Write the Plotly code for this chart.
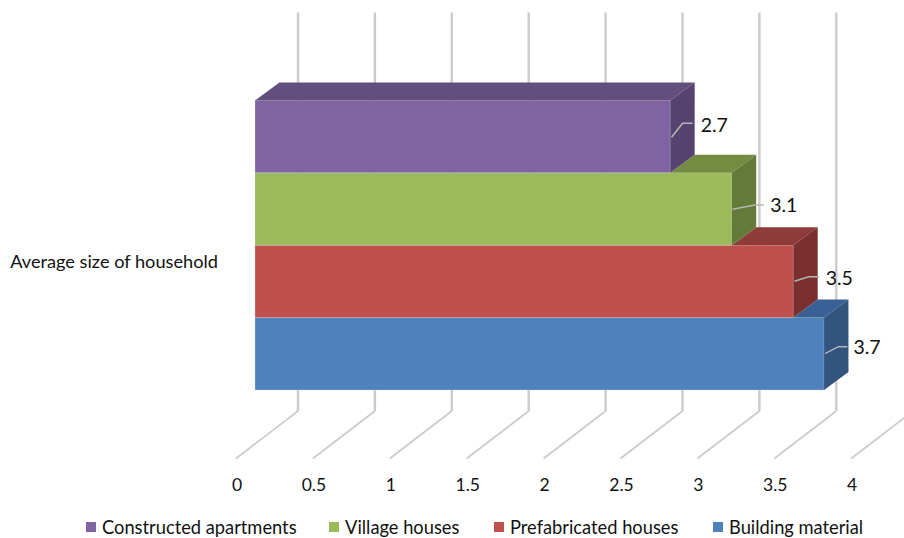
import plotly.graph_objects as go

# Household size by dwelling type, drawn as a pseudo-3D stacked-look bar chart
categories = ["Average size of household"]
series_names = ["Building material", "Prefabricated houses", "Village houses", "Constructed apartments"]
series_values = [3.7, 3.5, 3.1, 2.7]
tick_values = [0, 0.5, 1, 1.5, 2, 2.5, 3, 3.5, 4]
tick_labels = ["0", "0.5", "1", "1.5", "2", "2.5", "3", "3.5", "4"]

front_colors = ["#4F81BD", "#C0504D", "#9BBB59", "#8064A2"]
top_colors = ["#3A6195", "#8F3B39", "#748C42", "#634F7D"]
side_colors = ["#33547F", "#7A302E", "#647A38", "#57436F"]

# Pixel geometry of the figure
WIDTH, HEIGHT = 904, 538
LEFT, BOTTOM = 222, 68
PX_PER_UNIT = 153.8
PX_PER_SLOT = 72.4
BAR_FLOOR_PX = 390
ORIGIN_LABEL_PX = 237
ORIGIN_BAR_PX = 255
DEPTH_X = 24.4 / PX_PER_UNIT
DEPTH_Y = 18 / PX_PER_SLOT
GRID = "#CBCBCB"
FONT = "Lato"
TEXT = "#111111"


def y_at(px):
    return (BAR_FLOOR_PX - px) / PX_PER_SLOT - 0.5


fig = go.Figure()

# Back wall and floor lines, on the axis that carries the tick labels
for v in tick_values:
    back = v + 61 / PX_PER_UNIT
    fig.add_trace(go.Scatter(
        x=[back, back], y=[y_at(12.5), y_at(411)], mode="lines",
        line=dict(color=GRID, width=2.4), showlegend=False, hoverinfo="skip"))
    fig.add_trace(go.Scatter(
        x=[back, v - 1 / PX_PER_UNIT], y=[y_at(411), y_at(458.5)], mode="lines",
        line=dict(color=GRID, width=1.7), showlegend=False, hoverinfo="skip"))

# Front faces
for i, (name, value) in enumerate(zip(series_names, series_values)):
    fig.add_trace(go.Bar(
        x=[value], y=[i], width=1, orientation="h", name=name,
        xaxis="x2", showlegend=False,
        marker=dict(color=front_colors[i], line=dict(width=0.8, color="rgba(215,215,215,0.4)")),
        hoverinfo="skip"))

# Top and side faces; each top shows only where the next bar up does not cover it
for i, value in enumerate(series_values):
    start = series_values[i + 1] if i + 1 < len(series_values) else 0
    lo, hi = i - 0.5, i + 0.5
    fig.add_trace(go.Scatter(
        x=[start, value, value + DEPTH_X, start + DEPTH_X, start],
        y=[hi, hi, hi + DEPTH_Y, hi + DEPTH_Y, hi],
        xaxis="x2", mode="lines", fill="toself", fillcolor=top_colors[i],
        line=dict(width=0), showlegend=False, hoverinfo="skip"))
    fig.add_trace(go.Scatter(
        x=[value, value + DEPTH_X, value + DEPTH_X, value, value],
        y=[lo, lo + DEPTH_Y, hi + DEPTH_Y, hi, lo],
        xaxis="x2", mode="lines", fill="toself", fillcolor=side_colors[i],
        line=dict(width=0), showlegend=False, hoverinfo="skip"))

# Data labels with their leader lines (offsets in pixels from each bar end)
leader_dx = [(1, 14.3, 23.3), (1.3, 15.3, 25.7), (0.7, 23, 32), (1.3, 12.3, 22.3)]
leader_y = [(353.7, 346.7, 346.7), (281.3, 276.7, 276.7), (209.3, 205, 205), (137.3, 123.3, 123.3)]
label_dx = [43, 46, 52, 44]
label_y = [349, 280.5, 207, 127]
for i, value in enumerate(series_values):
    fig.add_trace(go.Scatter(
        x=[value + d / PX_PER_UNIT for d in leader_dx[i]],
        y=[y_at(p) for p in leader_y[i]],
        xaxis="x2", mode="lines", line=dict(color="#B5B5B5", width=1.5),
        showlegend=False, hoverinfo="skip"))
    fig.add_trace(go.Scatter(
        x=[value + label_dx[i] / PX_PER_UNIT], y=[y_at(label_y[i])],
        xaxis="x2", mode="text", text=[str(value)], textposition="middle center",
        textfont=dict(family=FONT, size=19.5, color=TEXT),
        showlegend=False, hoverinfo="skip"))

plot_w = WIDTH - LEFT
plot_h = HEIGHT - BOTTOM


def paper_x(px):
    return (px - LEFT) / plot_w


def paper_y(px):
    return (plot_h - px) / plot_h


# Legend row: a swatch and a caption per series, spaced to their caption widths
legend_swatch_px = [713, 494, 329, 86]
LEGEND_Y_PX = 527
SWATCH = 10
shapes = []
annotations = []
for i, name in enumerate(series_names):
    x0 = legend_swatch_px[i]
    shapes.append(dict(
        type="rect", xref="paper", yref="paper",
        x0=paper_x(x0), x1=paper_x(x0 + SWATCH),
        y0=paper_y(LEGEND_Y_PX - SWATCH / 2), y1=paper_y(LEGEND_Y_PX + SWATCH / 2),
        fillcolor=front_colors[i], line=dict(width=0)))
    annotations.append(dict(
        text=name, xref="paper", yref="paper", showarrow=False,
        x=paper_x(x0 + 14), y=paper_y(LEGEND_Y_PX), xanchor="left", yanchor="middle",
        font=dict(family=FONT, size=18.3, color=TEXT)))

fig.update_layout(
    width=WIDTH, height=HEIGHT,
    margin=dict(l=LEFT, r=0, t=0, b=BOTTOM, autoexpand=False),
    paper_bgcolor="white", plot_bgcolor="white", barmode="overlay", showlegend=False,
    shapes=shapes, annotations=annotations,
    xaxis=dict(
        range=[(LEFT - ORIGIN_LABEL_PX) / PX_PER_UNIT, (WIDTH - ORIGIN_LABEL_PX) / PX_PER_UNIT],
        tickmode="array", tickvals=tick_values, ticktext=tick_labels,
        tickfont=dict(family=FONT, size=17.5, color=TEXT),
        showgrid=False, zeroline=False, showline=False, ticks="", ticklabelstandoff=2),
    xaxis2=dict(
        range=[(LEFT - ORIGIN_BAR_PX) / PX_PER_UNIT, (WIDTH - ORIGIN_BAR_PX) / PX_PER_UNIT],
        overlaying="x", side="bottom", anchor="y", visible=False),
    yaxis=dict(
        range=[y_at(plot_h), y_at(0)], tickmode="array", tickvals=[y_at(261.5)],
        ticktext=categories, tickfont=dict(family=FONT, size=18.2, color=TEXT),
        showgrid=False, zeroline=False, showline=False, ticks="", ticklabelstandoff=3),
)

fig.write_html("out.html")
